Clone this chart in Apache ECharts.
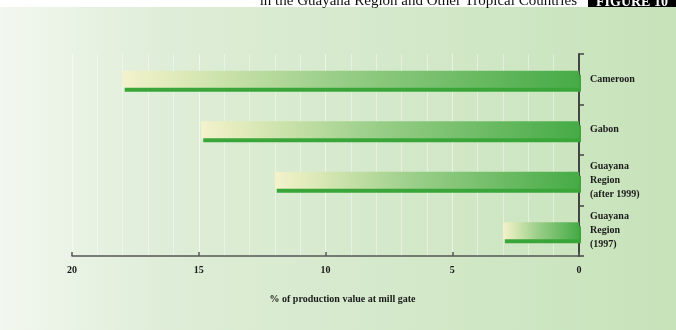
<!DOCTYPE html>
<html>
<head>
<meta charset="utf-8">
<script src="https://cdn.jsdelivr.net/npm/echarts@6/dist/echarts.min.js"></script>
<style>html,body{margin:0;padding:0;background:#fff}#c{width:676px;height:330px}</style>
</head>
<body>
<div id="c"></div>
<script>
const categories = ['Cameroon', 'Gabon', 'Guayana\nRegion\n(after 1999)', 'Guayana\nRegion\n(1997)'];
const values = [18.0, 14.9, 12.0, 3.0];
const xTicks = [0, 5, 10, 15, 20];

const serif = '"Liberation Serif","DejaVu Serif",serif';
const chart = echarts.init(document.getElementById('c'));
chart.setOption({
  animation: false,
  backgroundColor: new echarts.graphic.LinearGradient(0, 0, 1, 0, [
    { offset: 0, color: '#f2f7ef' },
    { offset: 0.25, color: '#deedd7' },
    { offset: 1, color: '#c7e3ba' }
  ]),
  graphic: [
    { type: 'rect', shape: { x: 0, y: 0, width: 676, height: 7 }, style: { fill: '#ffffff' }, z: 10 },
    { type: 'rect', shape: { x: 588, y: 0, width: 88, height: 7 }, style: { fill: '#000000' }, z: 11 },
    { type: 'text', z: 12, style: { text: 'in the Guayana Region and Other Tropical Countries', x: 577, y: 9, textAlign: 'right', textVerticalAlign: 'bottom', font: '15px ' + serif, fill: '#111' } },
    { type: 'text', z: 12, style: { text: 'FIGURE 10', x: 596, y: 9, textAlign: 'left', textVerticalAlign: 'bottom', font: 'bold 14px ' + serif, fill: '#fff' } }
  ],
  grid: { left: 72, right: 97, top: 54, bottom: 74 },
  xAxis: {
    type: 'value', inverse: true, min: 0, max: 20, interval: 5,
    position: 'bottom',
    axisLine: { show: true, lineStyle: { color: '#555', width: 1.5 } },
    axisTick: { show: true, inside: true, length: 4, lineStyle: { color: '#555', width: 1.5 } },
    axisLabel: {
      color: '#1a1a1a', fontFamily: serif, fontWeight: 'bold', fontSize: 10, margin: 9,
      formatter: v => xTicks.includes(v) ? String(v) : ''
    },
    splitLine: { show: true, lineStyle: { color: 'rgba(255,255,255,0.55)', width: 1 } },
    minorTick: { show: false, splitNumber: 5 },
    minorSplitLine: { show: true, lineStyle: { color: 'rgba(255,255,255,0.4)', width: 1 } },
    name: '% of production value at mill gate',
    nameLocation: 'middle', nameGap: 38,
    nameTextStyle: { color: '#1a1a1a', fontFamily: serif, fontWeight: 'bold', fontSize: 10, padding: [0, 0, 0, 34] }
  },
  yAxis: {
    type: 'category', data: categories, inverse: true, position: 'right',
    axisLine: { show: true, lineStyle: { color: '#444', width: 2 } },
    axisTick: { show: true, length: 5, lineStyle: { color: '#444', width: 1.5 } },
    axisLabel: {
      color: '#1a1a1a', fontFamily: serif, fontWeight: 'bold', fontSize: 10, lineHeight: 14,
      align: 'left', margin: 11, padding: [0, 0, 8, 0]
    },
    splitLine: { show: false }
  },
  series: [{
    type: 'bar', data: values, barWidth: 17,
    itemStyle: {
      color: new echarts.graphic.LinearGradient(0, 0, 1, 0, [
        { offset: 0, color: '#f3f2cc' },
        { offset: 0.12, color: '#dfeab9' },
        { offset: 0.45, color: '#9ccf8a' },
        { offset: 1, color: '#46ab46' }
      ]),
      shadowColor: '#3aa63a', shadowBlur: 0, shadowOffsetX: 2, shadowOffsetY: 4
    }
  }]
});
</script>
</body>
</html>
